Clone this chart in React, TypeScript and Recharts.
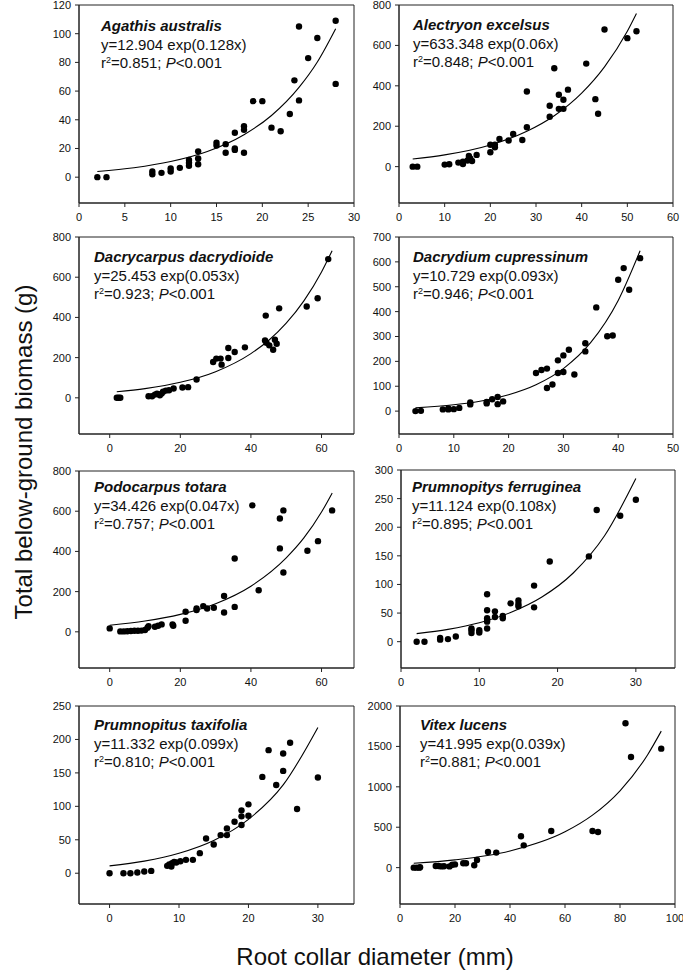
import React from "react";
import { ComposedChart, Scatter, Line, XAxis, YAxis, ReferenceArea } from "recharts";

const FONT = "Arial, 'Liberation Sans', Helvetica, sans-serif";

type Pt = [number, number];

// observed points, [root collar diameter (mm), total below-ground biomass (g)]
const agathisPts: Pt[] = [
  [2, 0], [3, 0], [8, 4], [8, 2], [9, 3], [10, 6], [10, 4], [11, 6.5], [12, 12], [12, 10], [12, 8],
  [13, 18], [13, 13], [13, 9], [15, 24], [15, 22], [16, 23], [16, 17], [17, 31], [17, 20], [17, 19],
  [18, 35.5], [18, 33], [18, 17], [19, 53], [20, 53], [21, 34.5], [22, 32], [23, 44], [23.5, 67.5],
  [24, 53.5], [24, 105], [25, 83], [26, 97], [28, 109], [28, 65],
];
const alectryonPts: Pt[] = [
  [3, 0], [4, 0], [10, 10], [11, 12], [13, 20], [14, 13], [14, 25], [15, 30], [15.3, 53], [15.6, 40],
  [16, 28], [17, 58], [20, 71], [20, 108], [21, 96], [21, 109], [22, 137], [24, 129], [25, 162],
  [27, 132], [28, 195], [28, 372], [33, 247], [33, 301], [34, 487], [35, 356], [35, 286], [36, 331],
  [36, 286], [37, 381], [41, 510], [43, 334], [43.6, 262], [45, 679], [50, 636], [52, 670],
];
const dacrycarpusPts: Pt[] = [
  [2, 0], [2.5, 0], [3, 0], [11, 8], [12, 8], [12.8, 16], [13.4, 21], [14.2, 13], [14.7, 21],
  [15.1, 30], [15.9, 36], [16.8, 38], [18.1, 46], [20.6, 51], [22.2, 53], [24.6, 91], [29.3, 178],
  [30.2, 195], [31.4, 195], [31.7, 165], [33.6, 248], [33.6, 198], [35.4, 228], [38.3, 251],
  [44, 285], [44.4, 274], [45.2, 261], [44.2, 409], [46.3, 239], [46.8, 289], [47.3, 269],
  [48, 445], [55.8, 454], [58.9, 495], [61.9, 690],
];
const dacrydiumPts: Pt[] = [
  [3, 0], [4, 1], [8, 7], [9, 7], [9, 11], [10, 8], [11, 13], [13, 27], [13, 35], [16, 31], [16, 37],
  [17, 48], [18, 57], [18, 28], [19, 39], [25, 153], [26, 165], [27, 171], [27, 93], [28, 107],
  [29, 204], [29, 153], [30, 224], [30, 157], [31, 247], [32, 147], [34, 273], [34, 240], [36, 417],
  [38, 301], [39, 304], [40, 528], [41, 575], [42, 488], [44, 615],
];
const podocarpusPts: Pt[] = [
  [0, 17], [3, 2], [4, 2], [5, 3], [6, 4], [7, 5], [8, 5], [9, 6], [10, 9], [10.7, 20], [11, 28],
  [12.8, 25], [13.7, 30], [14.7, 37], [17.8, 37], [18, 30], [21.5, 55], [21.5, 100], [24.6, 108],
  [24.6, 116], [26.5, 128], [27.6, 116], [29.5, 120], [32.4, 96], [32.4, 178], [35.4, 124],
  [35.4, 365], [40.4, 629], [42.2, 207], [48.2, 564], [48.2, 415], [49.2, 604], [49.2, 295],
  [56, 403], [59, 451], [63, 604],
];
const ferrugineaPts: Pt[] = [
  [2, 0], [3, 0], [5, 3.5], [5, 6.5], [6, 4.5], [7, 9], [9, 15], [9, 20], [9, 23], [10, 16], [10, 20],
  [11, 23], [11, 35], [11, 38], [11, 41], [11, 55], [11, 83], [12, 43], [12, 53], [13, 41], [13, 45],
  [14, 67], [15, 62], [15, 66], [15, 72], [17, 60], [17, 98], [19, 140], [24, 149], [25, 230],
  [28, 220], [30, 248],
];
const taxifoliaPts: Pt[] = [
  [0, 0], [2, 0], [3, 0], [4, 1], [5, 2.5], [6, 3.5], [8.3, 11], [8.6, 13], [8.9, 10], [9, 15],
  [9.3, 17], [9.6, 16], [10.2, 18], [11, 20], [12, 20], [13, 30], [13.9, 52], [15, 43], [16, 57],
  [16.9, 57], [16.9, 67], [18, 77], [19, 72], [19, 85], [19, 94], [20, 86], [20, 103], [22, 144],
  [22.9, 184], [24, 132], [25, 153], [25, 179], [26, 195], [27, 96], [30, 143],
];
const vitexPts: Pt[] = [
  [5, 0], [6, 0], [7, 0], [7.3, 5], [13, 20], [14, 20], [15, 15], [16, 18], [18, 15], [19, 35],
  [20, 40], [23, 54], [24, 54], [27, 29], [28, 95], [32, 194], [35, 186], [44, 388], [45, 276],
  [55, 454], [70, 454], [72, 441], [82, 1786], [84, 1369], [95, 1472],
];

// fitted curves
const agathisFitX = [2, 6, 10, 14, 18, 21, 24, 26, 28];
const agathisFitY = [4, 6.6, 10.9, 17.9, 29.6, 43, 62.6, 80.3, 103.5];
const alectryonFitX = [3, 10, 20, 28, 34, 40, 45, 50, 52];
const alectryonFitY = [38, 58, 107, 175, 252, 364, 494, 670, 758];
const dacrycarpusFitX = [2, 10, 20, 30, 40, 45, 50, 55, 60, 63];
const dacrycarpusFitY = [30, 45.6, 77, 130, 220, 285, 371, 482, 626, 732];
const dacrydiumFitX = [3, 10, 15, 20, 25, 30, 35, 40, 44];
const dacrydiumFitY = [13, 25.3, 40.8, 65.9, 106, 171, 276, 445, 645];
const podocarpusFitX = [0, 10, 20, 30, 40, 50, 55, 60, 63];
const podocarpusFitY = [33, 53.5, 86.6, 140, 227, 368, 467, 596, 690];
const ferrugineaFitX = [2, 6, 10, 14, 18, 22, 26, 30];
const ferrugineaFitY = [14, 21.5, 33, 51, 78, 120, 185, 285];
const taxifoliaFitX = [0, 5, 10, 15, 20, 25, 30];
const taxifoliaFitY = [11, 18.1, 29.9, 49, 80.5, 132, 218];
const vitexFitX = [5, 20, 40, 60, 70, 80, 90, 95];
const vitexFitY = [54, 96, 206, 443, 649, 951, 1394, 1689];

const names = [
  "Agathis australis", "Alectryon excelsus", "Dacrycarpus dacrydioide", "Dacrydium cupressinum",
  "Podocarpus totara", "Prumnopitys ferruginea", "Prumnopitus taxifolia", "Vitex lucens",
];
const equations = [
  "y=12.904 exp(0.128x)", "y=633.348 exp(0.06x)", "y=25.453 exp(0.053x)", "y=10.729 exp(0.093x)",
  "y=34.426 exp(0.047x)", "y=11.124 exp(0.108x)", "y=11.332 exp(0.099x)", "y=41.995 exp(0.039x)",
];
const rSquared = ["0.851", "0.848", "0.923", "0.946", "0.757", "0.895", "0.810", "0.881"];

const xTicks = [
  [0, 5, 10, 15, 20, 25, 30], [0, 10, 20, 30, 40, 50, 60], [0, 20, 40, 60], [0, 10, 20, 30, 40, 50],
  [0, 20, 40, 60], [0, 10, 20, 30], [0, 10, 20, 30], [0, 20, 40, 60, 80, 100],
];
const yTicks = [
  [0, 20, 40, 60, 80, 100, 120], [0, 200, 400, 600, 800], [0, 200, 400, 600, 800],
  [0, 100, 200, 300, 400, 500, 600, 700], [0, 200, 400, 600, 800], [0, 50, 100, 150, 200, 250, 300],
  [0, 50, 100, 150, 200, 250], [0, 500, 1000, 1500, 2000],
];

const PAD_L = 50;
const PAD_T = 6;
const PAD_R = 8;
const PAD_B = 30;

interface Panel {
  pts: Pt[];
  fitX: number[];
  fitY: number[];
  xDomain: [number, number];
  yDomain: [number, number];
  box: [number, number, number, number];
  label: [number, number];
}

const panels: Panel[] = [
  { pts: agathisPts, fitX: agathisFitX, fitY: agathisFitY, xDomain: [0, 30], yDomain: [-18, 120], box: [79, 5, 354, 203], label: [101, 26] },
  { pts: alectryonPts, fitX: alectryonFitX, fitY: alectryonFitY, xDomain: [0, 60], yDomain: [-180, 800], box: [399, 5, 673, 203], label: [413, 25] },
  { pts: dacrycarpusPts, fitX: dacrycarpusFitX, fitY: dacrycarpusFitY, xDomain: [-8.7, 69.2], yDomain: [-180, 800], box: [79, 237, 354, 434], label: [94, 257] },
  { pts: dacrydiumPts, fitX: dacrydiumFitX, fitY: dacrydiumFitY, xDomain: [0, 50], yDomain: [-92, 700], box: [399, 237, 673, 434], label: [413, 257] },
  { pts: podocarpusPts, fitX: podocarpusFitX, fitY: podocarpusFitY, xDomain: [-8.7, 69.2], yDomain: [-180, 800], box: [79, 471, 354, 668], label: [94, 487] },
  { pts: ferrugineaPts, fitX: ferrugineaFitX, fitY: ferrugineaFitY, xDomain: [0, 35], yDomain: [-46, 300], box: [401, 470, 675, 668], label: [412, 487] },
  { pts: taxifoliaPts, fitX: taxifoliaFitX, fitY: taxifoliaFitY, xDomain: [-4.4, 35.2], yDomain: [-46, 250], box: [79, 706, 354, 904], label: [94, 725] },
  { pts: vitexPts, fitX: vitexFitX, fitY: vitexFitY, xDomain: [0, 100], yDomain: [-450, 2000], box: [400, 706, 675, 904], label: [420, 725] },
];

const tickStyle = { fontSize: 11, fill: "#111", fontFamily: FONT };

function Dot(props: any) {
  return <circle cx={props.cx} cy={props.cy} r={3.2} fill="#000" />;
}

function PanelChart({ p, i }: { p: Panel; i: number }) {
  const [l, t, r, b] = p.box;
  const w = r - l + PAD_L + PAD_R;
  const h = b - t + PAD_T + PAD_B;
  const points = p.pts.map(([x, y]) => ({ x, y }));
  const fit = p.fitX.map((x, k) => ({ x, y: p.fitY[k] }));
  return (
    <>
      <div style={{ position: "absolute", left: l - PAD_L, top: t - PAD_T, width: w, height: h }}>
        <ComposedChart width={w} height={h} margin={{ top: PAD_T, right: PAD_R, bottom: 0, left: 0 }}>
          <XAxis
            type="number"
            dataKey="x"
            domain={p.xDomain}
            ticks={xTicks[i]}
            interval={0}
            allowDataOverflow
            height={PAD_B}
            tickSize={4}
            tickMargin={6}
            stroke="#222"
            tick={tickStyle}
          />
          <YAxis
            type="number"
            dataKey="y"
            domain={p.yDomain}
            ticks={yTicks[i]}
            interval={0}
            allowDataOverflow
            width={PAD_L}
            tickSize={4}
            tickMargin={4}
            stroke="#222"
            tick={tickStyle}
          />
          <ReferenceArea
            x1={p.xDomain[0]}
            x2={p.xDomain[1]}
            y1={p.yDomain[0]}
            y2={p.yDomain[1]}
            fill="none"
            stroke="#222"
            strokeWidth={1}
            ifOverflow="visible"
          />
          <Line data={fit} dataKey="y" type="monotone" dot={false} stroke="#000" strokeWidth={1.1} isAnimationActive={false} />
          <Scatter data={points} dataKey="y" shape={Dot} isAnimationActive={false} />
        </ComposedChart>
      </div>
      <div
        style={{
          position: "absolute",
          left: p.label[0],
          top: p.label[1] - 9,
          fontSize: 15,
          lineHeight: "18.5px",
          color: "#111",
          whiteSpace: "nowrap",
        }}
      >
        <div style={{ fontWeight: "bold", fontStyle: "italic" }}>{names[i]}</div>
        <div>{equations[i]}</div>
        <div>
          r<span style={{ fontSize: 9, position: "relative", top: -5 }}>2</span>={rSquared[i]};{" "}
          <i>P</i>&lt;0.001
        </div>
      </div>
    </>
  );
}

export default function App() {
  return (
    <div
      style={{
        position: "absolute",
        left: 0,
        top: 0,
        width: 685,
        height: 973,
        background: "#fff",
        fontFamily: FONT,
      }}
    >
      {panels.map((p, i) => (
        <PanelChart key={names[i]} p={p} i={i} />
      ))}
      <div
        style={{
          position: "absolute",
          left: 24,
          top: 452,
          transform: "translate(-50%, -50%) rotate(-90deg)",
          fontSize: 24,
          whiteSpace: "nowrap",
          color: "#111",
        }}
      >
        Total below-ground biomass (g)
      </div>
      <div
        style={{
          position: "absolute",
          left: 375,
          top: 957,
          transform: "translate(-50%, -50%)",
          fontSize: 24,
          whiteSpace: "nowrap",
          color: "#111",
        }}
      >
        Root collar diameter (mm)
      </div>
    </div>
  );
}
